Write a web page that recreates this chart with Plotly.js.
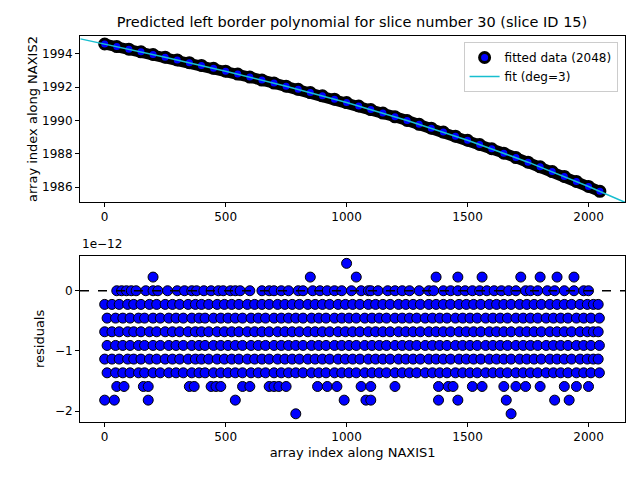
<!DOCTYPE html>
<html>
<head>
<script src="https://cdn.plot.ly/plotly-3.0.1.min.js"></script>
<style>body{margin:0}</style>
</head>
<body>
<div id="plot" style="width:640px;height:480px"></div>
<script>
// top panel: fitted data sampled along NAXIS1
var dataX = [0,50,100,150,200,250,300,350,400,450,500,550,600,650,700,750,800,850,900,950,
  1000,1050,1100,1150,1200,1250,1300,1350,1400,1450,1500,1550,1600,1650,1700,1750,1800,1850,1900,1950,2000,2047];
var dataY = [1994.600,1994.444,1994.287,1994.129,1993.969,1993.807,1993.643,1993.477,1993.309,1993.139,
  1992.966,1992.791,1992.613,1992.433,1992.249,1992.063,1991.873,1991.680,1991.484,1991.284,
  1991.080,1990.873,1990.661,1990.446,1990.226,1990.002,1989.774,1989.541,1989.304,1989.061,
  1988.814,1988.561,1988.304,1988.041,1987.772,1987.498,1987.219,1986.933,1986.641,1986.344,1986.040,1985.749];
var fitX = [-100,0,250,500,750,1000,1250,1500,1750,2000,2150];
var fitY = [1994.908,1994.600,1993.807,1992.966,1992.063,1991.080,1990.002,1988.814,1987.498,1986.040,1985.090];

// bottom panel: residuals (units of 1e-12), grouped by level
var lvlP2 = 0.455, xP2 = [1000];
var lvlP1 = 0.227, xP1 = [200,850,1040,1370,1460,1560,1720,1800,1870,1940];
var lvl0 = 0, x0 = [50,70,90,110,130,170,200,220,260,300,330,360,380,410,440,470,490,520,540,560,600,650,680,700,730,760,800,820,860,890,920,950,980,1020,1060,1090,1100,1130,1170,1200,1230,1260,1300,1340,1360,1400,1430,1460,1490,1520,1550,1580,1610,1640,1670,1700,1740,1760,1790,1830,1860,1900,1940,1980,2000];
var bandLevels = [-0.227,-0.455,-0.682,-0.909,-1.136,-1.364];
var bandA = [0,30,60,95,120,150,185,215,250,280,310,345,375,400,430,465,495,525,555,590,620,650,680,715,745,775,805,840,870,900,930,965,995,1025,1055,1090,1120,1150,1180,1215,1245,1275,1305,1340,1370,1400,1430,1465,1495,1525,1555,1590,1620,1650,1680,1715,1745,1775,1805,1840,1870,1900,1930,1965,1995,2020,2040];
var bandB = [10,45,75,105,140,165,200,230,265,295,325,360,390,415,450,480,510,540,570,605,635,665,700,730,760,790,820,855,885,915,950,980,1010,1040,1075,1105,1135,1165,1200,1230,1260,1290,1325,1355,1385,1415,1450,1480,1510,1540,1575,1605,1635,1665,1700,1730,1760,1790,1825,1855,1885,1915,1950,1980,2010,2045];
var lvlM7 = -1.591, xM7 = [50,80,160,180,350,370,440,460,480,570,600,680,700,720,750,880,920,960,1060,1100,1200,1380,1420,1440,1520,1560,1650,1700,1740,1800,1900,1950,2000];
var lvlM8 = -1.818, xM8 = [0,40,180,540,990,1080,1100,1380,1460,1660,1860,1920];
var lvlM9 = -2.045, xM9 = [790,1680];

var resX = [], resY = [];
function addLevel(xs, lv){ xs.forEach(function(x){ resX.push(x); resY.push(lv); }); }
addLevel(xP2, lvlP2); addLevel(xP1, lvlP1); addLevel(x0, lvl0);
bandLevels.forEach(function(lv, i){ addLevel(i % 2 ? bandB : bandA, lv); });
addLevel(xM7, lvlM7); addLevel(xM8, lvlM8); addLevel(xM9, lvlM9);

var mk = {color: 'blue', size: 10, line: {color: 'black', width: 1}};
var band = {x: dataX, y: dataY, mode: 'lines', type: 'scatter', showlegend: false, hoverinfo: 'skip',
  line: {color: 'black', width: 11}, xaxis: 'x', yaxis: 'y'};
var trace1 = {x: dataX, y: dataY, mode: 'markers', type: 'scatter', name: 'fitted data (2048)',
  marker: {color: 'blue', size: 10, line: {color: 'black', width: 3}}, xaxis: 'x', yaxis: 'y'};
var trace2 = {x: fitX, y: fitY, mode: 'lines', type: 'scatter', name: 'fit (deg=3)',
  line: {color: '#17becf', width: 1.5}, xaxis: 'x', yaxis: 'y'};
var trace3 = {x: resX, y: resY, mode: 'markers', type: 'scatter', showlegend: false,
  marker: mk, xaxis: 'x2', yaxis: 'y2'};

var ax = {showgrid: false, zeroline: false, showline: true, mirror: true, linecolor: 'black',
  ticks: 'outside', ticklen: 4, tickcolor: 'black', tickfont: {size: 12, color: 'black'}};
function axis(extra){ return Object.assign({}, ax, extra); }

var layout = {
  width: 640, height: 480, margin: {l: 0, r: 0, t: 0, b: 0},
  font: {family: 'DejaVu Sans', color: 'black'},
  paper_bgcolor: 'white', plot_bgcolor: 'white',
  title: {text: 'Predicted left border polynomial for slice number 30 (slice ID 15)',
    font: {size: 14.5}, x: 0.55, xanchor: 'center', y: 0.955, yanchor: 'middle'},
  xaxis: axis({domain: [0.125, 0.977], range: [-102, 2152], anchor: 'y', tickvals: [0,500,1000,1500,2000]}),
  yaxis: axis({domain: [0.579, 0.925], range: [1985.1, 1995.08], dtick: 2,
    title: {text: 'array index along NAXIS2', font: {size: 13}}}),
  xaxis2: axis({domain: [0.125, 0.977], range: [-102, 2152], anchor: 'y2', tickvals: [0,500,1000,1500,2000],
    title: {text: 'array index along NAXIS1', font: {size: 13}, standoff: 4}}),
  yaxis2: axis({domain: [0.121, 0.467], range: [-2.18, 0.58], anchor: 'x2', tickvals: [-2,-1,0],
    ticktext: ['\u22122','\u22121','0'], title: {text: 'residuals', font: {size: 13}}}),
  shapes: [{type: 'line', xref: 'x2 domain', yref: 'y2', x0: 0, x1: 1, y0: 0, y1: 0,
    line: {color: 'black', width: 1.5, dash: 'dash'}}],
  annotations: [{text: '1e\u221212', xref: 'paper', yref: 'paper', x: 0.125, y: 0.472,
    xanchor: 'left', yanchor: 'bottom', showarrow: false, font: {size: 12}}],
  legend: {x: 0.965, y: 0.9125, xanchor: 'right', yanchor: 'top', bordercolor: '#cccccc',
    borderwidth: 1, bgcolor: 'rgba(255,255,255,0.8)', font: {size: 12}}
};

Plotly.newPlot('plot', [band, trace1, trace2, trace3], layout, {displayModeBar: false});
</script>
</body>
</html>
